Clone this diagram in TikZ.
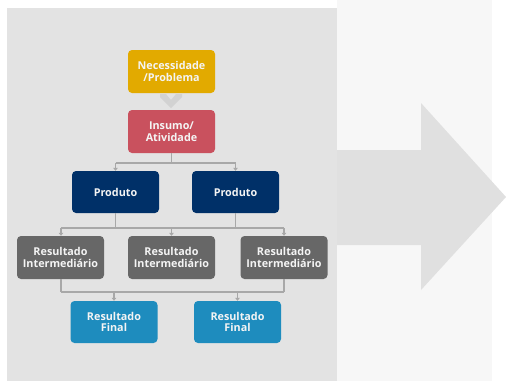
\documentclass[tikz,border=0pt]{standalone}
\usepackage{fontspec}
\setmainfont{Open Sans}
\usetikzlibrary{arrows.meta}
\definecolor{panel}{HTML}{E3E3E3}
\definecolor{rightbg}{HTML}{F7F7F7}
\definecolor{bigarrow}{HTML}{E0E0E0}
\definecolor{gold}{HTML}{E2AA00}
\definecolor{rose}{HTML}{C9515E}
\definecolor{navy}{HTML}{003068}
\definecolor{midgray}{HTML}{676767}
\definecolor{skyblue}{HTML}{1E8CBE}
\definecolor{conn}{HTML}{A8A8A8}
\definecolor{chev}{HTML}{D2D2D2}
\definecolor{boxtext}{HTML}{F4F4F4}
\tikzset{
  box/.style={draw=none, rounded corners=4pt, text=boxtext, font=\bfseries\fontsize{10.8}{11.7}\selectfont,
    align=center, minimum width=87pt, minimum height=43pt, inner sep=0pt},
  link/.style={draw=conn, line width=1.3pt},
  linkarrow/.style={draw=conn, line width=1.3pt, -{Triangle[length=3pt,width=4.5pt]}}
}
\begin{document}
\begin{tikzpicture}[x=1pt,y=-1pt]
\useasboundingbox (0,0) rectangle (506,381);
\fill[white] (0,0) rectangle (506,381);
\fill[rightbg] (337,0) rectangle (492,381);
\fill[panel] (7,8) rectangle (337,381);
% big arrow
\fill[bigarrow] (337,150) -- (421,150) -- (421,103) -- (506,197) -- (421,290) -- (421,245) -- (337,245) -- cycle;
% chevron
\fill[chev] (160,94) -- (166,94) -- (171,100) -- (176,94) -- (182,94) -- (182,97) -- (171,108) -- (160,97) -- cycle;
% boxes
\node[box, fill=gold] (nec) at (171.5,71.5) {Necessidade\\/Problema};
\node[box, fill=rose] (ins) at (171.5,131.5) {Insumo/\\Atividade};
\node[box, fill=navy, minimum height=42pt] (p1) at (115.5,192) {Produto};
\node[box, fill=navy, minimum height=42pt] (p2) at (235.5,192) {Produto};
\node[box, fill=midgray] (r1) at (60.5,257.5) {Resultado\\Intermediário};
\node[box, fill=midgray] (r2) at (171.5,257.5) {Resultado\\Intermediário};
\node[box, fill=midgray] (r3) at (284,257.5) {Resultado\\Intermediário};
\node[box, fill=skyblue, minimum height=42pt] (f1) at (114,322) {Resultado\\Final};
\node[box, fill=skyblue, minimum height=42pt] (f2) at (237.5,322) {Resultado\\Final};
% junction coordinates
\coordinate (j1) at (171.5,163);
\coordinate (j1l) at (115.5,163);
\coordinate (j1r) at (235.5,163);
\coordinate (j2l) at (61,228);
\coordinate (j2r) at (284,228);
\coordinate (j2a) at (115.5,228);
\coordinate (j2b) at (235.5,228);
\coordinate (j2m) at (171.5,228);
\coordinate (j3l) at (61,292);
\coordinate (j3r) at (284,292);
\coordinate (j3a) at (114,292);
\coordinate (j3b) at (237.5,292);
% connectors level 1
\draw[link] (ins.south) -- (j1);
\draw[link] (j1l) -- (j1r);
\draw[linkarrow] (j1l) -- (p1.north);
\draw[linkarrow] (j1r) -- (p2.north);
% level 2
\draw[link] (p1.south) -- (j2a);
\draw[link] (p2.south) -- (j2b);
\draw[link] (j2l) -- (j2r);
\draw[linkarrow] (j2l) -- (j2l |- r1.north);
\draw[linkarrow] (j2m) -- (r2.north);
\draw[linkarrow] (j2r) -- (j2r |- r3.north);
% level 3
\draw[link] (j3l |- r1.south) -- (j3l);
\draw[link] (j3r |- r3.south) -- (j3r);
\draw[link] (j3l) -- (j3r);
\draw[linkarrow] (j3a) -- (f1.north);
\draw[linkarrow] (j3b) -- (f2.north);
\end{tikzpicture}
\end{document}
